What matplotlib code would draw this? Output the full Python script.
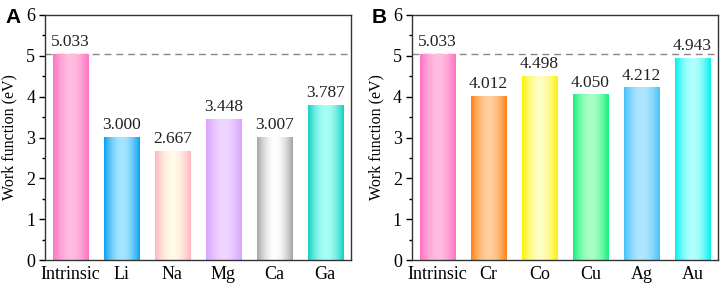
import numpy as np
import matplotlib.pyplot as plt
from matplotlib.colors import to_rgb
from matplotlib.ticker import MultipleLocator

# Datos
elementosA = ["Intrinsic", "Li", "Na", "Mg", "Ca", "Ga"]
valoresA = [5.033, 3.000, 2.667, 3.448, 3.007, 3.787]
elementosB = ["Intrinsic", "Cr", "Co", "Cu", "Ag", "Au"]
valoresB = [5.033, 4.012, 4.498, 4.050, 4.212, 4.943]
referencia = 5.033

# colores (borde, centro) para cada barra
coloresA = [("#ff70c0", "#ffbde0"), ("#0a9ff0", "#a6e6ff"), ("#ffb4c0", "#fffbe6"),
            ("#d8a0ff", "#efd6ff"), ("#a4a4a4", "#ffffff"), ("#14d0c0", "#a8fff6")]
coloresB = [("#ff70c0", "#ffbde0"), ("#ff8014", "#ffd0a0"), ("#fff000", "#ffffc4"),
            ("#14f07a", "#a8ffc4"), ("#44c2f8", "#b0e6ff"), ("#00f0f0", "#b4ffff")]

plt.rcParams['font.family'] = ['Liberation Serif', 'DejaVu Serif']
plt.rcParams['font.size'] = 13

def barraDegradada(ax, x, alto, ancho, borde, centro):
    c1 = np.array(to_rgb(borde))
    c2 = np.array(to_rgb(centro))
    t = np.linspace(0, 1, 200)
    f = 1 - np.abs(2 * t - 1) ** 1.8
    img = c1[None, :] + (c2 - c1)[None, :] * f[:, None]
    img = img[None, :, :]
    ax.imshow(img, extent=(x - ancho / 2, x + ancho / 2, 0, alto), aspect='auto',
              interpolation='bilinear', zorder=2)

def graficarPanel(ax, elementos, valores, colores, letra):
    ancho = 0.69
    ax.axhline(referencia, color='#888888', lw=1.0, ls=(0, (5, 3.5)), zorder=1)
    for i, (v, (c1, c2)) in enumerate(zip(valores, colores)):
        barraDegradada(ax, i, v, ancho, c1, c2)
        ax.text(i, v + 0.1, f"{v:.3f}", ha='center', va='bottom', fontsize=12.5, color='#222222')
    ax.set_xlim(-0.5, len(elementos) - 0.5)
    ax.set_ylim(0, 6)
    ax.set_xticks(range(len(elementos)))
    ax.set_xticklabels(elementos)
    ax.tick_params(axis='x', length=0, pad=4, labelsize=13)
    ax.yaxis.set_major_locator(MultipleLocator(1))
    ax.yaxis.set_minor_locator(MultipleLocator(0.5))
    ax.tick_params(axis='y', which='major', direction='out', length=4, width=1, labelsize=13, pad=3)
    ax.tick_params(axis='y', which='minor', direction='out', length=2.5, width=1)
    ax.set_ylabel("Work function (eV)", fontsize=11.5, labelpad=6)
    for s in ax.spines.values():
        s.set_color('#333333')
        s.set_linewidth(1.0)
    ax.text(-0.13, 0.99, letra, transform=ax.transAxes, fontsize=15, fontweight='bold',
            family='Liberation Sans', ha='left', va='center')

fig = plt.figure(figsize=(7.26, 2.88), dpi=100)
axA = fig.add_axes([0.062, 0.097, 0.421, 0.851])
axB = fig.add_axes([0.567, 0.097, 0.422, 0.851])
graficarPanel(axA, elementosA, valoresA, coloresA, "A")
graficarPanel(axB, elementosB, valoresB, coloresB, "B")

fig.savefig("out.png", dpi=100)
